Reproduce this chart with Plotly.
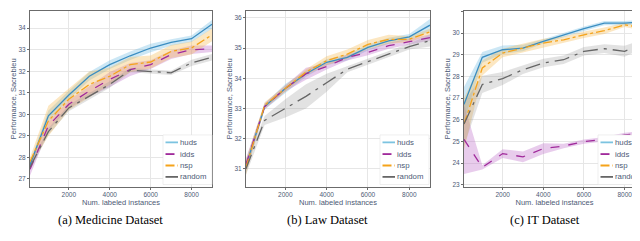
import plotly.graph_objects as go

x_vals = [100, 1000, 2000, 3000, 4000, 5000, 6000, 7000, 8000, 9000]
methods = ["huds", "idds", "nsp", "random"]

# Medicine
med_huds = [27.65, 29.93, 30.9, 31.77, 32.31, 32.72, 33.08, 33.34, 33.51, 34.18]
med_idds = [27.45, 29.47, 30.47, 31.08, 31.62, 32.08, 32.31, 32.77, 33.0, 33.05]
med_nsp = [27.8, 29.7, 30.7, 31.39, 31.77, 32.31, 32.43, 32.92, 33.08, 33.69]
med_random = [27.55, 29.2, 30.3, 30.85, 31.39, 32.05, 32.0, 31.93, 32.39, 32.65]
med_huds_err = [0.15, 0.25, 0.2, 0.2, 0.2, 0.2, 0.2, 0.15, 0.15, 0.2]
med_idds_err = [0.3, 0.2, 0.2, 0.25, 0.35, 0.3, 0.2, 0.2, 0.2, 0.15]
med_nsp_err = [0.2, 0.7, 0.5, 0.6, 0.4, 0.35, 0.3, 0.3, 0.3, 0.3]
med_random_err = [0.15, 0.15, 0.15, 0.15, 0.15, 0.1, 0.1, 0.1, 0.15, 0.15]

# Law
law_huds = [31.1, 33.06, 33.66, 34.15, 34.53, 34.69, 35.02, 35.24, 35.37, 35.76]
law_idds = [31.15, 33.06, 33.66, 34.15, 34.39, 34.69, 34.86, 35.08, 35.21, 35.35]
law_nsp = [31.05, 33.1, 33.66, 34.2, 34.58, 34.8, 35.12, 35.29, 35.29, 35.54]
law_random = [31.0, 32.6, 33.0, 33.4, 33.85, 34.3, 34.55, 34.8, 35.05, 35.25]
law_huds_err = [0.2, 0.1, 0.15, 0.1, 0.1, 0.1, 0.1, 0.1, 0.1, 0.2]
law_idds_err = [0.2, 0.1, 0.1, 0.2, 0.1, 0.1, 0.1, 0.1, 0.1, 0.1]
law_nsp_err = [0.25, 0.1, 0.1, 0.1, 0.15, 0.15, 0.15, 0.15, 0.1, 0.1]
law_random_err = [0.2, 0.15, 0.3, 0.4, 0.3, 0.1, 0.1, 0.1, 0.1, 0.2]

# IT
it_huds = [26.71, 28.88, 29.23, 29.31, 29.62, 29.92, 30.2, 30.46, 30.46, 30.51]
it_idds = [25.1, 23.8, 24.44, 24.29, 24.67, 24.79, 24.99, 25.1, 25.3, 25.4]
it_nsp = [25.8, 28.39, 29.08, 29.31, 29.54, 29.69, 29.92, 30.11, 30.38, 30.23]
it_random = [25.8, 27.63, 27.9, 28.31, 28.62, 28.77, 29.16, 29.28, 29.16, 29.54]
it_huds_err = [0.8, 0.25, 0.2, 0.15, 0.1, 0.1, 0.1, 0.1, 0.1, 0.1]
it_idds_err = [1.6, 0.1, 0.2, 0.25, 0.25, 0.1, 0.1, 0.1, 0.1, 0.1]
it_nsp_err = [1.2, 0.35, 0.2, 0.2, 0.2, 0.15, 0.15, 0.15, 0.1, 0.15]
it_random_err = [1.0, 0.4, 0.3, 0.2, 0.2, 0.2, 0.2, 0.2, 0.25, 0.2]

x_ticks = [2000, 4000, 6000, 8000]
captions = ["(a) Medicine Dataset", "(b) Law Dataset", "(c) IT Dataset"]
y_title = "Performance, Sacrebleu"
x_title = "Num. labeled instances"

panels = [
    dict(vals=[med_huds, med_idds, med_nsp, med_random],
         errs=[med_huds_err, med_idds_err, med_nsp_err, med_random_err],
         yrange=[26.65, 34.8]),
    dict(vals=[law_huds, law_idds, law_nsp, law_random],
         errs=[law_huds_err, law_idds_err, law_nsp_err, law_random_err],
         yrange=[30.41, 36.23]),
    dict(vals=[it_huds, it_idds, it_nsp, it_random],
         errs=[it_huds_err, it_idds_err, it_nsp_err, it_random_err],
         yrange=[22.92, 31.02]),
]

line_colors = ["#3a8dc1", "#a02a9b", "#f5a31a", "#666666"]
legend_colors = ["#7cc3e0", "#a02a9b", "#f5a31a", "#666666"]
fill_colors = ["rgba(110,185,225,0.35)", "rgba(190,110,200,0.35)",
               "rgba(245,185,80,0.35)", "rgba(150,150,150,0.28)"]
dashes = ["solid", "dash", "dashdot", "longdashdot"]

W, H = 640, 241
xdoms = [[22 / W, 204 / W], [238 / W, 422 / W], [456 / W, 637 / W]]
ydom = [1 - 180 / H, 1 - 3 / H]
tick_color = "#4d5a75"

fig = go.Figure()

for p, panel in enumerate(panels):
    xa = "x" if p == 0 else f"x{p+1}"
    ya = "y" if p == 0 else f"y{p+1}"
    for i, m in enumerate(methods):
        v = panel["vals"][i]
        e = panel["errs"][i]
        hi = [a + b for a, b in zip(v, e)]
        lo = [a - b for a, b in zip(v, e)]
        fig.add_trace(go.Scatter(
            x=x_vals + x_vals[::-1], y=hi + lo[::-1], fill="toself",
            fillcolor=fill_colors[i], line=dict(width=0), mode="lines",
            hoverinfo="skip", showlegend=False, xaxis=xa, yaxis=ya))
    for i, m in enumerate(methods):
        fig.add_trace(go.Scatter(
            x=x_vals, y=panel["vals"][i], mode="lines", name=m,
            line=dict(color=line_colors[i], width=1.3, dash=dashes[i]),
            xaxis=xa, yaxis=ya, showlegend=False))

axis_common = dict(showline=True, linecolor="#6b6b6b", linewidth=1, mirror=True,
                   showgrid=True, gridcolor="#e6e6e6", gridwidth=1,
                   ticks="outside", ticklen=2, tickcolor="#6b6b6b",
                   tickfont=dict(size=6.5, color=tick_color, family="Liberation Sans"),
                   zeroline=False)

layout = dict(width=W, height=H, margin=dict(l=0, r=0, t=0, b=0),
              plot_bgcolor="white", paper_bgcolor="white", showlegend=False)

for p in range(3):
    xk = "xaxis" if p == 0 else f"xaxis{p+1}"
    yk = "yaxis" if p == 0 else f"yaxis{p+1}"
    anchor_x = "y" if p == 0 else f"y{p+1}"
    anchor_y = "x" if p == 0 else f"x{p+1}"
    layout[xk] = dict(axis_common, domain=xdoms[p], anchor=anchor_x,
                      range=[100, 9000], tickvals=x_ticks,
                      title=dict(text=x_title, standoff=2,
                                 font=dict(size=7.5, color=tick_color, family="Liberation Sans")))
    layout[yk] = dict(axis_common, domain=ydom, anchor=anchor_y,
                      range=panels[p]["yrange"], dtick=1,
                      title=dict(text=y_title, standoff=0,
                                 font=dict(size=7.5, color=tick_color, family="Liberation Sans")))

fig.update_layout(**layout)

# manual compact legends (pixel positions)
leg_boxes = [(155, 204), (372, 421), (590, 636)]
entry_y = [135.5, 147.3, 158.8, 170.3]


def px(xp):
    return xp / W


def py(yp):
    return 1 - yp / H


for p in range(3):
    bx0, bx1 = leg_boxes[p]
    fig.add_shape(type="rect", xref="paper", yref="paper",
                  x0=px(bx0), x1=px(bx1), y0=py(178), y1=py(128),
                  fillcolor="white", line=dict(color="#e4e4e4", width=0.6))
    for i, m in enumerate(methods):
        yy = py(entry_y[i])
        fig.add_shape(type="line", xref="paper", yref="paper",
                      x0=px(bx0 + 2.5), x1=px(bx0 + 15), y0=yy, y1=yy,
                      line=dict(color=legend_colors[i], width=1.8, dash=dashes[i]))
        fig.add_annotation(text=m, x=px(bx0 + 16), y=yy, xref="paper", yref="paper",
                           showarrow=False, xanchor="left", yanchor="middle",
                           borderpad=0,
                           font=dict(size=7.8, color=tick_color, family="Liberation Sans"))

cap_x = [102 / W, 319 / W, 537 / W]
for p in range(3):
    fig.add_annotation(text=captions[p], x=cap_x[p], y=1 - 214 / H,
                       xref="paper", yref="paper", showarrow=False,
                       xanchor="center", yanchor="middle",
                       font=dict(size=12.5, color="black", family="Liberation Serif"))

fig.write_html("out.html")
